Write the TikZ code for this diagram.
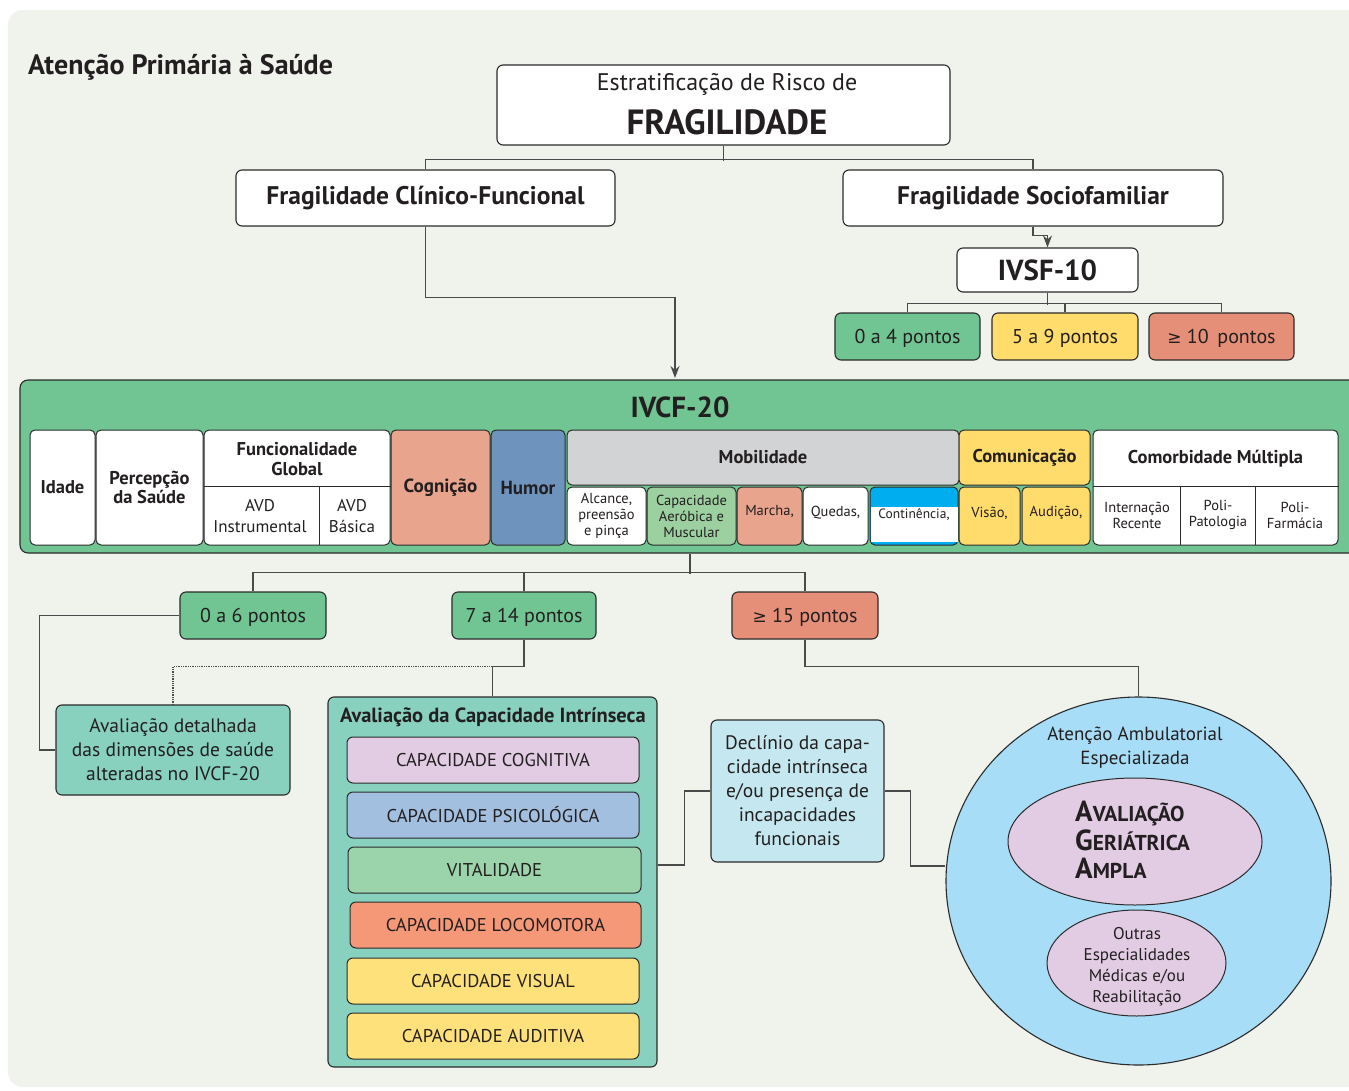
\documentclass[tikz,border=0pt]{standalone}
\usepackage{fontspec}
\setmainfont{PT Sans}
\newfontfamily\symfont{DejaVu Sans}
\usetikzlibrary{arrows.meta,shapes.geometric}
\definecolor{bgc}{HTML}{F0F2EC}
\definecolor{linec}{HTML}{2B2B2B}
\definecolor{connc}{HTML}{4A4A4A}
\definecolor{txt}{HTML}{231F20}
\definecolor{ivgreen}{HTML}{70C592}
\definecolor{ptgreen}{HTML}{70C592}
\definecolor{ptyellow}{HTML}{FFDC6B}
\definecolor{ptsalmon}{HTML}{E68F78}
\definecolor{cogc}{HTML}{E8A48C}
\definecolor{humc}{HTML}{6E94BE}
\definecolor{mobc}{HTML}{D1D3D4}
\definecolor{aerc}{HTML}{9DD0A0}
\definecolor{conc}{HTML}{00AEEF}
\definecolor{tealc}{HTML}{88D1BE}
\definecolor{lilac}{HTML}{E1CCE3}
\definecolor{psic}{HTML}{A3BFDF}
\definecolor{vitc}{HTML}{9BD3AA}
\definecolor{locc}{HTML}{F59878}
\definecolor{capy}{HTML}{FEE17A}
\definecolor{decc}{HTML}{C5E7EF}
\definecolor{ambc}{HTML}{A8DDF7}
\begin{document}
\begin{tikzpicture}[x=1pt,y=-1pt,
  box/.style={draw=linec, line width=1.1pt, rounded corners=6pt, fill=white, inner sep=0pt, align=center, text=txt},
  cell/.style={box, line width=1pt, rounded corners=5pt},
  lbl/.style={inner sep=0pt, align=center, text=txt},
  conn/.style={draw=connc, line width=1.3pt},
  arr/.style={conn, -{Stealth[length=12pt,width=9pt]}},
  hb/.style={font=\fontsize{18.5}{19.5}\selectfont\bfseries},
  sm/.style={font=\fontsize{14.5}{16}\selectfont},
  ptbox/.style={box, minimum height=47, text depth=0pt, font=\fontsize{20}{24}\selectfont},
  capbox/.style={box, line width=1pt, minimum width=292, minimum height=46, font=\fontsize{18.5}{20}\selectfont},
  agaline/.style={lbl, anchor=base west, font=\bfseries}
]
\useasboundingbox (0,0) rectangle (1349,1091);
% backdrop
\fill[bgc, rounded corners=15pt] (8,10) rectangle (1380,1087);

\node[lbl, anchor=base west, font=\fontsize{28}{32}\selectfont\bfseries] (title) at (28,75) {Atenção Primária à Saúde};

% top of the hierarchy
\node[box, minimum width=453, minimum height=80] (top) at (723.5,105) {};
\node[lbl, font=\fontsize{24}{28}\selectfont] (topa) at (727,84) {Estratificação de Risco de};
\node[lbl, font=\fontsize{35}{40}\selectfont\bfseries] (topb) at (727,122) {FRAGILIDADE};

\node[box, minimum width=379, minimum height=56, font=\fontsize{25.5}{30}\selectfont\bfseries] (clin) at (425.5,198) {Fragilidade Clínico-Funcional};
\node[box, minimum width=380, minimum height=56, font=\fontsize{25.5}{30}\selectfont\bfseries] (socio) at (1033,198) {Fragilidade Sociofamiliar};

\draw[conn] (top.south) -- ++(0,15);
\draw[conn] (clin.north) -- ++(0,-10) -| (socio.north);

% IVSF-10 branch
\node[box, minimum width=181, minimum height=44, font=\fontsize{29}{32}\selectfont\bfseries] (ivsf) at (1047.5,270) {IVSF-10};
\draw[arr] (socio.south) -- ++(0,9) -| (ivsf.north);

\node[ptbox, fill=ptgreen, minimum width=145] (pa) at (907.5,336.5) {0 a 4 pontos};
\node[ptbox, fill=ptyellow, minimum width=146] (pb) at (1065,336.5) {5 a 9 pontos};
\node[ptbox, fill=ptsalmon, minimum width=145] (pc) at (1221.5,336.5) {{\symfont\fontsize{17}{20}\selectfont ≥} 10\, pontos};
\draw[conn] (ivsf.south) -- ++(0,12);
\draw[conn] (pa.north) -- ++(0,-9) -| (pc.north);
\draw[conn] (pb.north) -- ++(0,-9);

% IVCF-20 panel
\node[box, fill=ivgreen, rounded corners=8pt, minimum width=1340, minimum height=173] (ivcf) at (690,466.5) {};
\coordinate (ivin) at (675,378);
\draw[arr] (clin.south) -- ++(0,71) -| (ivin);
\node[lbl, font=\fontsize{29}{32}\selectfont\bfseries] (ivt) at (680,407) {IVCF-20};

\node[cell, minimum width=65, minimum height=115, hb] (idade) at (62.5,487.5) {Idade};
\node[cell, minimum width=107, minimum height=115, hb] (perc) at (149.5,487.5) {Percepção\\da Saúde};

\node[cell, minimum width=186, minimum height=115] (func) at (297,487.5) {};
\draw[linec, line width=1pt] (func.west |- 0,486) -- (func.east |- 0,486);
\draw[linec, line width=1pt] (319,486) -- (319,545);
\node[lbl, hb] (funct) at (297,459) {Funcionalidade\\Global};
\node[lbl, font=\fontsize{17}{21}\selectfont] (avdi) at (260,516) {AVD\\Instrumental};
\node[lbl, font=\fontsize{17}{21}\selectfont] (avdb) at (352,516) {AVD\\Básica};

\node[cell, fill=cogc, minimum width=99, minimum height=115, font=\fontsize{19}{20}\selectfont\bfseries] (cog) at (440.5,487.5) {Cognição};
\node[cell, fill=humc, minimum width=74, minimum height=115, font=\fontsize{19}{20}\selectfont\bfseries] (hum) at (528,487.5) {Humor};

\node[cell, fill=mobc, minimum width=392, minimum height=55, hb] (mob) at (763,457.5) {Mobilidade};
\node[cell, minimum width=79, minimum height=58, sm] (alc) at (606.5,516) {Alcance,\\preensão\\e pinça};
\node[cell, fill=aerc, minimum width=89, minimum height=58, sm] (aer) at (691.5,516) {Capacidade\\Aeróbica e\\Muscular};
\node[cell, fill=cogc, minimum width=65, minimum height=58] (mar) at (769.5,516) {};
\node[lbl, sm] (mart) at (769.5,512) {Marcha,};
\node[cell, minimum width=65, minimum height=58] (que) at (835.5,516) {};
\node[lbl, sm] (quet) at (835.5,513) {Quedas,};
\node[cell, fill=conc, minimum width=88, minimum height=58] (con) at (914,516) {};
\fill[white] (870.5,507) rectangle (957.5,542);
\node[lbl, font=\fontsize{13.5}{15}\selectfont] (cont) at (914,515) {Continência,};

\node[cell, fill=ptyellow, minimum width=131, minimum height=55, hb] (com) at (1024.5,457.5) {Comunicação};
\node[cell, fill=ptyellow, minimum width=61, minimum height=58] (vis) at (989.5,516) {};
\node[lbl, sm] (vist) at (989.5,513) {Visão,};
\node[cell, fill=ptyellow, minimum width=68, minimum height=58] (aud) at (1056,516) {};
\node[lbl, sm] (audt) at (1056,513) {Audição,};

\node[cell, minimum width=245, minimum height=115] (comb) at (1215.5,487.5) {};
\draw[linec, line width=1pt] (comb.west |- 0,486) -- (comb.east |- 0,486);
\draw[linec, line width=0.8pt] (1180,486) -- (1180,545);
\draw[linec, line width=0.8pt] (1255,486) -- (1255,545);
\node[lbl, hb] (combt) at (1215.5,459) {Comorbidade Múltipla};
\node[lbl, sm] (intr) at (1137,515) {Internação\\Recente};
\node[lbl, sm] (ppat) at (1218,515) {Poli-\\Patologia};
\node[lbl, sm] (pfar) at (1295,515) {Poli-\\Farmácia};

% IVCF-20 scores
\node[ptbox, fill=ptgreen, minimum width=146] (q06) at (253,615.5) {0 a 6 pontos};
\node[ptbox, fill=ptgreen, minimum width=144] (q714) at (524,615.5) {7 a 14 pontos};
\node[ptbox, fill=ptsalmon, minimum width=146] (q15) at (805,615.5) {{\symfont\fontsize{17}{20}\selectfont ≥} 15 pontos};
\draw[conn] (ivcf.south) -- ++(0,20);
\draw[conn] (q06.north) -- ++(0,-19) -| (q15.north);
\draw[conn] (q714.north) -- ++(0,-19);

% follow-up boxes
\node[box, fill=tealc, minimum width=234, minimum height=90, font=\fontsize{19.5}{24}\selectfont] (det) at (173,750) {Avaliação detalhada\\das dimensões de saúde\\alteradas no IVCF-20};
\draw[conn] (q06.west) -- ++(-140,0) |- (det.west);

\node[box, fill=tealc, minimum width=329, minimum height=370] (cap) at (492.5,882) {};
\node[lbl, font=\fontsize{20.5}{22}\selectfont\bfseries] (capt) at (493,717) {Avaliação da Capacidade Intrínseca};
\node[capbox, fill=lilac] (c1) at (493,760) {CAPACIDADE COGNITIVA};
\node[capbox, fill=psic] (c2) at (493,815) {CAPACIDADE PSICOLÓGICA};
\node[capbox, fill=vitc, minimum width=293] (c3) at (494.5,870) {VITALIDADE};
\node[capbox, fill=locc, minimum width=291] (c4) at (495.5,925) {CAPACIDADE LOCOMOTORA};
\node[capbox, fill=capy] (c5) at (493,981) {CAPACIDADE VISUAL};
\node[capbox, fill=capy] (c6) at (493,1036) {CAPACIDADE AUDITIVA};

\path (q714.south) ++(0,27) coordinate (j714);
\draw[conn] (q714.south) -- (j714) -| (cap.north);
\draw[connc, line width=1.3pt, densely dotted] (cap.north |- j714) -| (det.north);

\node[box, fill=decc, minimum width=173, minimum height=142, font=\fontsize{19.5}{24}\selectfont] (dec) at (797.5,791) {Declínio da capa-\\cidade intrínseca\\e/ou presença de\\incapacidades\\funcionais};
\draw[conn] (dec.west) -- ++(-26,0) |- ([yshift=17pt]cap.east);

% specialised care
\node[draw=linec, line width=1.1pt, fill=ambc, ellipse, inner sep=0pt, minimum width=385, minimum height=368] (amb) at (1138.5,881) {};
\draw[conn] (q15.south) -- ++(0,27) -| (amb.north);
\draw[conn] (dec.east) -- ++(26,0) |- ([yshift=15pt]amb.west);
\node[lbl, font=\fontsize{19}{24}\selectfont] (ambt) at (1135,748) {Atenção Ambulatorial\\Especializada};

\node[draw=linec, line width=1pt, fill=lilac, ellipse, inner sep=0pt, minimum width=254, minimum height=127] (aga) at (1135,841.5) {};
\node[agaline] (aga1) at (1075,821) {\fontsize{29}{30}\selectfont A\fontsize{21.5}{30}\selectfont VALIAÇÃO};
\node[agaline] (aga2) at (1075,850) {\fontsize{29}{30}\selectfont G\fontsize{21.5}{30}\selectfont ERIÁTRICA};
\node[agaline] (aga3) at (1075,878.5) {\fontsize{29}{30}\selectfont A\fontsize{21.5}{30}\selectfont MPLA};

\node[draw=linec, line width=1pt, fill=lilac, ellipse, inner sep=0pt, minimum width=179, minimum height=106] (out) at (1136.5,963) {};
\node[lbl, font=\fontsize{17}{21}\selectfont] (outt) at (1137,967) {Outras\\Especialidades\\Médicas e/ou\\Reabilitação};
\end{tikzpicture}
\end{document}
